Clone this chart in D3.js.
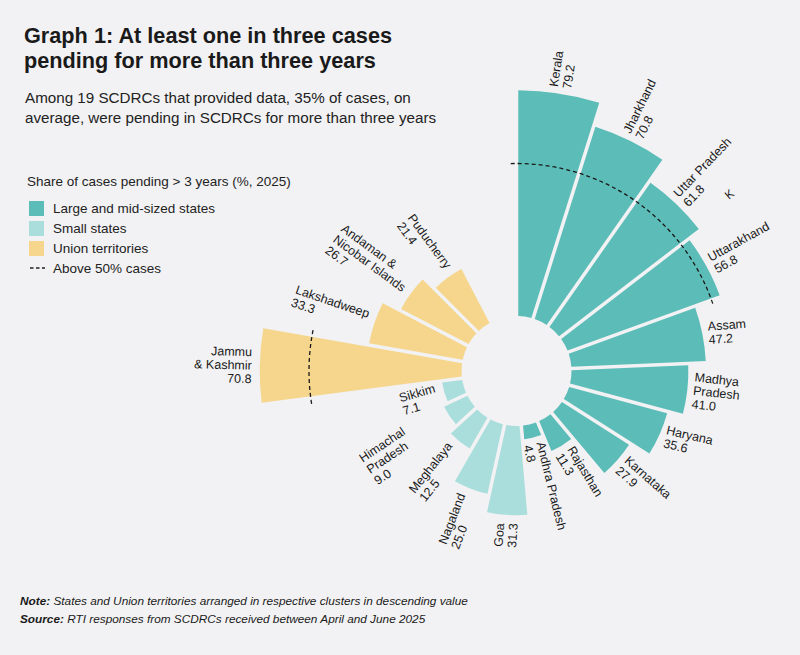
<!DOCTYPE html>
<html>
<head>
<meta charset="utf-8">
<script src="https://cdn.jsdelivr.net/npm/d3@7"></script>
<style>
  body { margin: 0; background: #f2f2f4; }
  svg { display: block; font-family: "Liberation Sans", Arial, sans-serif; }
</style>
</head>
<body>
<div id="chart"></div>
<script>
// states / UTs in drawing order (clockwise from 12 o'clock)
var names = ["Kerala", "Jharkhand", "Uttar Pradesh", "Uttarakhand", "Assam", "Madhya Pradesh",
  "Haryana", "Karnataka", "Rajasthan", "Andhra Pradesh",
  "Goa", "Nagaland", "Meghalaya", "Himachal Pradesh", "Sikkim",
  "Jammu & Kashmir", "Lakshadweep", "Andaman & Nicobar Islands", "Puducherry"];
var values = [79.2, 70.8, 61.8, 56.8, 47.2, 41.0, 35.6, 27.9, 11.3, 4.8,
  31.3, 25.0, 12.5, 9.0, 7.1,
  70.8, 33.3, 26.7, 21.4];
var groups = ["large", "large", "large", "large", "large", "large", "large", "large", "large", "large",
  "small", "small", "small", "small", "small",
  "ut", "ut", "ut", "ut"];
var labelLines = [["Kerala"], ["Jharkhand"], ["Uttar Pradesh"], ["Uttarakhand"], ["Assam"], ["Madhya", "Pradesh"],
  ["Haryana"], ["Karnataka"], ["Rajasthan"], ["Andhra Pradesh"],
  ["Goa"], ["Nagaland"], ["Meghalaya"], ["Himachal", "Pradesh"], ["Sikkim"],
  ["Jammu", "& Kashmir"], ["Lakshadweep"], ["Andaman &", "Nicobar Islands"], ["Puducherry"]];

var groupKeys = ["large", "small", "ut"];
var groupNames = ["Large and mid-sized states", "Small states", "Union territories"];
var threshold = 50;

// hand placement quirks of the original labels
var labelPush = { "Himachal Pradesh": 38 };
var labelTilt = { "Assam": -4, "Haryana": 13 };

function init() {
  var w = 800, h = 655;
  var cx = 516.5, cy = 371;
  var inner = 55;

  var data = names.map(function(n, i) {
    return { name: n, value: values[i], group: groups[i], lines: labelLines[i] };
  });

  var color = d3.scaleOrdinal()
    .domain(groupKeys)
    .range(["#5cbdb8", "#a9dedc", "#f5d68c"]);

  var x = d3.scaleBand()
    .domain(names)
    .range([0, 332.5 * Math.PI / 180]);

  var y = d3.scaleLinear()
    .domain([0, 80])
    .range([inner, 283]);

  var svg = d3.select("#chart")
    .append("svg")
    .attr("width", w)
    .attr("height", h);

  svg.append("rect").attr("width", w).attr("height", h).attr("fill", "#f2f2f4");

  // title + subtitle
  svg.append("text").attr("x", 24).attr("y", 43)
    .attr("font-size", 21.7).attr("font-weight", "bold").attr("fill", "#1a1a1a")
    .text("Graph 1: At least one in three cases");
  svg.append("text").attr("x", 24).attr("y", 68)
    .attr("font-size", 21.7).attr("font-weight", "bold").attr("fill", "#1a1a1a")
    .text("pending for more than three years");
  svg.append("text").attr("x", 25).attr("y", 103)
    .attr("font-size", 15.2).attr("fill", "#222")
    .text("Among 19 SCDRCs that provided data, 35% of cases, on");
  svg.append("text").attr("x", 25).attr("y", 123)
    .attr("font-size", 15.2).attr("fill", "#222")
    .text("average, were pending in SCDRCs for more than three years");

  // legend
  var legend = svg.append("g").attr("transform", "translate(27,0)");
  legend.append("text").attr("x", 0).attr("y", 186)
    .attr("font-size", 13.5).attr("fill", "#222")
    .text("Share of cases pending > 3 years (%, 2025)");
  groupKeys.forEach(function(k, i) {
    legend.append("rect").attr("x", 2).attr("y", 201 + i * 20)
      .attr("width", 15).attr("height", 15).attr("fill", color(k));
    legend.append("text").attr("x", 26).attr("y", 213 + i * 20)
      .attr("font-size", 13.5).attr("fill", "#222").text(groupNames[i]);
  });
  legend.append("line").attr("x1", 3).attr("x2", 18).attr("y1", 268).attr("y2", 268)
    .attr("stroke", "#222").attr("stroke-width", 1.3).attr("stroke-dasharray", "3.5,2.5");
  legend.append("text").attr("x", 26).attr("y", 273)
    .attr("font-size", 13.5).attr("fill", "#222").text("Above 50% cases");

  var chart = svg.append("g").attr("transform", "translate(" + cx + "," + cy + ")");

  var arc = d3.arc()
    .innerRadius(inner)
    .outerRadius(function(d) { return y(d.value); })
    .startAngle(function(d) { return x(d.name); })
    .endAngle(function(d) { return x(d.name) + x.bandwidth(); })
    .padAngle(0.032)
    .padRadius(110);

  chart.selectAll("path.bar")
    .data(data)
    .enter()
    .append("path")
    .attr("class", "bar")
    .attr("d", arc)
    .attr("fill", function(d) { return color(d.group); });

  // dashed guide over runs of bars above the threshold
  // (the reference draws it a little outside the 50 mark)
  var rDash = y(threshold) + 10;
  var runs = [], cur = null;
  data.forEach(function(d, i) {
    if (d.value > threshold) {
      if (cur && cur.last === i - 1) cur.last = i;
      else { cur = { first: i, last: i }; runs.push(cur); }
    } else cur = null;
  });
  var ext = 1.6 * Math.PI / 180;
  runs.forEach(function(r) {
    var a0 = x(names[r.first]) - ext;
    var a1 = x(names[r.last]) + x.bandwidth() + ext;
    var p = d3.path();
    p.arc(0, 0, rDash, a0 - Math.PI / 2, a1 - Math.PI / 2);
    chart.append("path").attr("d", p.toString())
      .attr("fill", "none").attr("stroke", "#1a1a1a")
      .attr("stroke-width", 1.3).attr("stroke-dasharray", "4,3");
  });

  // labels
  var lh = 13.5;
  function midDeg(d) { return (x(d.name) + x.bandwidth() / 2) * 180 / Math.PI; }

  var labels = chart.selectAll("g.label")
    .data(data)
    .enter()
    .append("g")
    .attr("class", "label")
    .attr("transform", function(d) {
      var a = midDeg(d);
      var left = a >= 180;
      var r = y(d.value) + (left ? 8 : 6) + (labelPush[d.name] || 0);
      var rot = left ? 180 : 0;
      if (labelTilt[d.name] !== undefined) rot += labelTilt[d.name] - (a - 90);
      return "rotate(" + (a - 90) + ") translate(" + r + ",0) rotate(" + rot + ")";
    });

  labels.each(function(d) {
    var g = d3.select(this);
    var left = midDeg(d) >= 180;
    var lines = d.lines.concat([d3.format(".1f")(d.value)]);
    var n = lines.length;
    var t = g.selectAll("text")
      .data(lines)
      .enter()
      .append("text")
      .attr("font-size", 12.5)
      .attr("fill", "#1a1a1a")
      .attr("y", function(s, i) { return (i - (n - 1) / 2) * lh; })
      .attr("dy", "0.35em")
      .text(function(s) { return s; });
    if (left) {
      if (d.name === "Jammu & Kashmir") {
        t.attr("text-anchor", "end");
      } else {
        var maxW = 0;
        t.each(function() { maxW = Math.max(maxW, this.getComputedTextLength()); });
        t.attr("x", -maxW);
      }
    }
  });

  // stray glyph present in the reference artwork
  svg.append("text").attr("transform", "translate(729,200) rotate(-40)")
    .attr("font-size", 12).attr("fill", "#1a1a1a").text("K");

  // notes
  var note = svg.append("text").attr("x", 20).attr("y", 605)
    .attr("font-size", 11.8).attr("font-style", "italic").attr("fill", "#1a1a1a");
  note.append("tspan").attr("font-weight", "bold").text("Note:");
  note.append("tspan").text(" States and Union territories arranged in respective clusters in descending value");
  var src = svg.append("text").attr("x", 20).attr("y", 623)
    .attr("font-size", 11.8).attr("font-style", "italic").attr("fill", "#1a1a1a");
  src.append("tspan").attr("font-weight", "bold").text("Source:");
  src.append("tspan").text(" RTI responses from SCDRCs received between April and June 2025");
}

window.onload = init;
</script>
</body>
</html>
